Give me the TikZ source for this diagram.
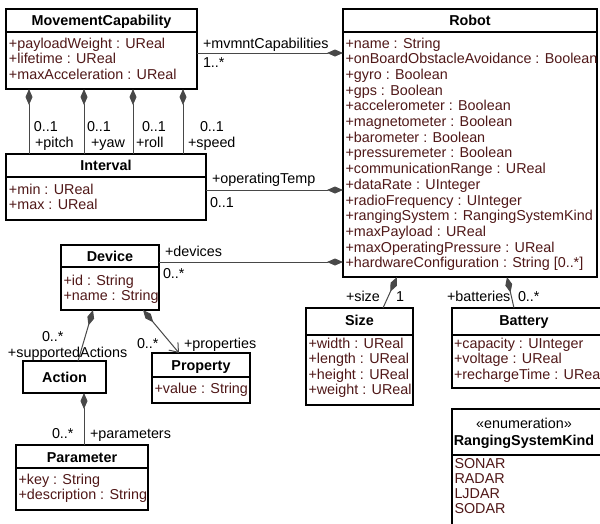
\documentclass[tikz,border=0pt]{standalone}
\usepackage{fontspec}
\setmainfont{Liberation Sans}
\usetikzlibrary{arrows.meta}
\definecolor{attrcol}{RGB}{80,24,24}
\definecolor{linkcol}{RGB}{72,72,72}

\begin{document}
\begin{tikzpicture}[x=1pt,y=-1pt,
  every node/.style={font=\fontsize{14.35}{15.7}\selectfont, inner sep=0pt, outer sep=0pt},
  cls/.style={draw=black, line width=1.3pt, fill=white, rectangle, anchor=north west},
  sepline/.style={draw=black, line width=1.3pt},
  ttl/.style={anchor=base, font=\fontsize{14.35}{15.7}\selectfont\bfseries},
  attr/.style={anchor=base west, text=attrcol},
  lbl/.style={anchor=base west, text=black},
  link/.style={draw=linkcol, line width=1pt},
  comp/.style={link, -{Diamond[length=16pt,width=7pt]}},
  compnav/.style={link, {Diamond[length=16pt,width=7pt]}-{Straight Barb[length=8pt,width=12pt]}}
]
\useasboundingbox (0,0) rectangle (600,523);
\clip (0,0) rectangle (600,523);
\fill[white] (0,0) rectangle (600,523);

% ---- class boxes ----
\node[cls, minimum width=191pt, minimum height=80pt] (mc) at (6,9) {};
\node[cls, minimum width=254pt, minimum height=268pt] (robot) at (343,9) {};
\node[cls, minimum width=200pt, minimum height=66pt] (interval) at (6,154) {};
\node[cls, minimum width=98pt, minimum height=65pt] (device) at (61,245) {};
\node[cls, minimum width=83pt, minimum height=32pt] (action) at (23,361) {};
\node[cls, minimum width=98pt, minimum height=50pt] (property) at (152,353) {};
\node[cls, minimum width=132pt, minimum height=65pt] (parameter) at (16,445) {};
\node[cls, minimum width=107pt, minimum height=97pt] (size) at (306,308) {};
\node[cls, minimum width=154pt, minimum height=80pt] (battery) at (452,308) {};
\node[cls, minimum width=154pt, minimum height=130pt] (rsk) at (452,409) {};

% ---- compartment separators ----
\draw[sepline] (mc.west |- 0,32) -- (mc.east |- 0,32);
\draw[sepline] (robot.west |- 0,32) -- (robot.east |- 0,32);
\draw[sepline] (interval.west |- 0,177) -- (interval.east |- 0,177);
\draw[sepline] (device.west |- 0,267) -- (device.east |- 0,267);
\draw[sepline] (property.west |- 0,377) -- (property.east |- 0,377);
\draw[sepline] (parameter.west |- 0,468) -- (parameter.east |- 0,468);
\draw[sepline] (size.west |- 0,335) -- (size.east |- 0,335);
\draw[sepline] (battery.west |- 0,335) -- (battery.east |- 0,335);
\draw[sepline] (rsk.west |- 0,455) -- (rsk.east |- 0,455);

% ---- class names ----
\node[ttl] (mc-t) at (101.5,25) {MovementCapability};
\node[ttl] (robot-t) at (470,25) {Robot};
\node[ttl] (interval-t) at (106,170) {Interval};
\node[ttl] (device-t) at (110,261) {Device};
\node[ttl] (action-t) at (64.5,382) {Action};
\node[ttl] (property-t) at (201,370) {Property};
\node[ttl] (parameter-t) at (82,462) {Parameter};
\node[ttl] (size-t) at (359.5,325) {Size};
\node[ttl] (battery-t) at (524,325) {Battery};
\node[anchor=base] (rsk-s) at (524,428) {«enumeration»};
\node[ttl] (rsk-t) at (524,445) {RangingSystemKind};

% ---- attributes ----
\foreach \txt [count=\i from 0] in {{+payloadWeight : UReal},{+lifetime : UReal},{+maxAcceleration : UReal}}
  \node[attr] (mc-a\i) at (9,{48+15.7*\i}) {\txt};
\foreach \txt [count=\i from 0] in {{+name : String},{+onBoardObstacleAvoidance : Boolean},{+gyro : Boolean},{+gps : Boolean},{+accelerometer : Boolean},{+magnetometer : Boolean},{+barometer : Boolean},{+pressuremeter : Boolean},{+communicationRange : UReal},{+dataRate : UInteger},{+radioFrequency : UInteger},{+rangingSystem : RangingSystemKind},{+maxPayload : UReal},{+maxOperatingPressure : UReal},{+hardwareConfiguration : String [0..*]}}
  \node[attr] (robot-a\i) at (345.5,{48+15.7*\i}) {\txt};
\foreach \txt [count=\i from 0] in {{+min : UReal},{+max : UReal}}
  \node[attr] (interval-a\i) at (9,{194+15.5*\i}) {\txt};
\foreach \txt [count=\i from 0] in {{+id : String},{+name : String}}
  \node[attr] (device-a\i) at (63.5,{285+15.5*\i}) {\txt};
\node[attr] (property-a0) at (154.5,393) {+value : String};
\foreach \txt [count=\i from 0] in {{+key : String},{+description : String}}
  \node[attr] (parameter-a\i) at (18.5,{484+15.7*\i}) {\txt};
\foreach \txt [count=\i from 0] in {{+width : UReal},{+length : UReal},{+height : UReal},{+weight : UReal}}
  \node[attr] (size-a\i) at (308.5,{348+15.5*\i}) {\txt};
\foreach \txt [count=\i from 0] in {{+capacity : UInteger},{+voltage : UReal},{+rechargeTime : UReal}}
  \node[attr] (battery-a\i) at (454,{348+15.7*\i}) {\txt};
\foreach \txt [count=\i from 0] in {SONAR,RADAR,LJDAR,SODAR}
  \node[attr] (rsk-a\i) at (454.5,{468+15*\i}) {\txt};

% ---- associations ----
\draw[comp] (mc.east |- 0,53) -- (robot.west |- 0,53);
\node[lbl] (l-mvmnt) at (203,48) {+mvmntCapabilities};
\node[lbl] (m-mvmnt) at (203,67) {1..*};

\draw[comp] (interval.north -| 29,0) -- (mc.south -| 29,0);
\draw[comp] (interval.north -| 84,0) -- (mc.south -| 84,0);
\draw[comp] (interval.north -| 133,0) -- (mc.south -| 133,0);
\draw[comp] (interval.north -| 183,0) -- (mc.south -| 183,0);
\node[lbl] (m-pitch) at (34,131) {0..1};
\node[lbl] (l-pitch) at (35,147) {+pitch};
\node[lbl] (m-yaw) at (87,131) {0..1};
\node[lbl] (l-yaw) at (91,147) {+yaw};
\node[lbl] (m-roll) at (142,131) {0..1};
\node[lbl] (l-roll) at (136,147) {+roll};
\node[lbl] (m-speed) at (200,131) {0..1};
\node[lbl] (l-speed) at (188,147) {+speed};

\draw[comp] (interval.east |- 0,190) -- (robot.west |- 0,190);
\node[lbl] (l-temp) at (212,183) {+operatingTemp};
\node[lbl] (m-temp) at (210,207) {0..1};

\draw[comp] (device.east |- 0,262) -- (robot.west |- 0,262);
\node[lbl] (l-dev) at (165,256) {+devices};
\node[lbl] (m-dev) at (163,278) {0..*};

\draw[comp] (action.north -| 78,0) -- (device.south -| 93,0);
\node[lbl] (m-act) at (42,341) {0..*};
\node[lbl] (l-act) at (8,357) {+supportedActions};

\draw[compnav] (device.south -| 143,0) -- (property.north -| 179,0);
\node[lbl] (m-prop) at (137,348) {0..*};
\node[lbl] (l-prop) at (184,348) {+properties};

\draw[comp] (parameter.north -| 84,0) -- (action.south -| 84,0);
\node[lbl] (m-par) at (52,438) {0..*};
\node[lbl] (l-par) at (90,438) {+parameters};

\draw[comp] (size.north -| 383,0) -- (robot.south -| 397,0);
\node[lbl] (l-size) at (346,301) {+size};
\node[lbl] (m-size) at (396,301) {1};

\draw[comp] (battery.north -| 514,0) -- (robot.south -| 507,0);
\node[lbl] (l-bat) at (447,301) {+batteries};
\node[lbl] (m-bat) at (518,301) {0..*};
\end{tikzpicture}
\end{document}
